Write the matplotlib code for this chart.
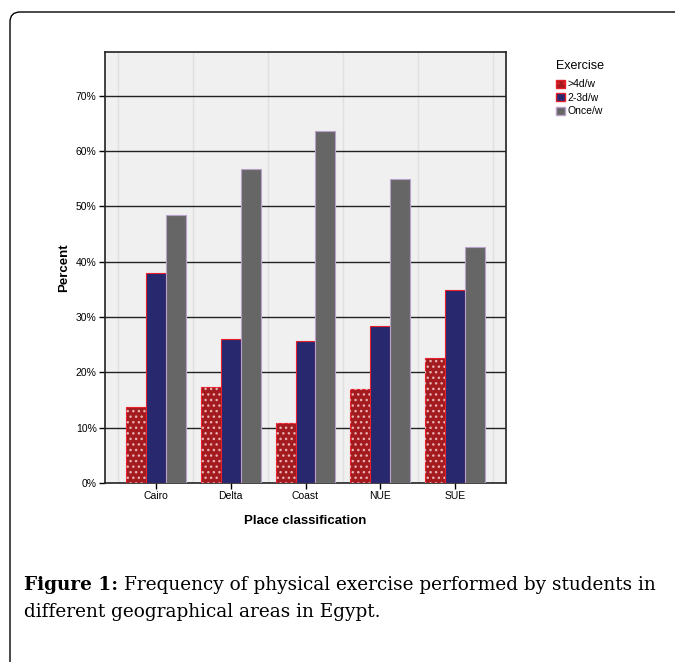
import matplotlib
matplotlib.use('Agg')
import matplotlib.pyplot as plt
import numpy as np
from matplotlib.patches import FancyBboxPatch, Patch

# data
places = ['Cairo', 'Delta', 'Coast', 'NUE', 'SUE']
over_4d = [13.7, 17.4, 10.9, 16.9, 22.6]
d2_3 = [37.9, 26.0, 25.6, 28.3, 34.8]
once = [48.4, 56.7, 63.7, 54.9, 42.6]
series_labels = ['>4d/w', '2-3d/w', 'Once/w']
yticks = [0, 10, 20, 30, 40, 50, 60, 70]

plt.rcParams['font.family'] = ['Liberation Sans', 'DejaVu Sans']

fig = plt.figure(figsize=(6.75, 6.62), dpi=100)
W, H = 675, 662

# rounded frame around the figure panel
frame = FancyBboxPatch((10 / W, -0.2), 1.2, (H - 12) / H + 0.2,
                       boxstyle='round,pad=0,rounding_size=0.015',
                       transform=fig.transFigure, fill=False,
                       edgecolor='black', linewidth=1.0)
fig.patches.append(frame)

ax = fig.add_axes([105 / W, 1 - 483 / H, (506 - 105) / W, (483 - 52) / H])
ax.set_facecolor('#f0f0f0')

x = np.arange(len(places))
w = 0.267

# >4d/w bars: dark red with light dotted pattern
ax.bar(x - w, over_4d, w, color='#a31a1f', edgecolor='#e8202a', linewidth=0.8, zorder=3)
ax.bar(x - w, over_4d, w, color='none', edgecolor='#e8b0b0', hatch='...', linewidth=0, zorder=4)
ax.bar(x, d2_3, w, color='#28286e', edgecolor='#e8202a', linewidth=0.8, zorder=3)
ax.bar(x + w, once, w, color='#666666', edgecolor='#b8a0c8', linewidth=0.8, zorder=3)

ax.set_xlim(-0.68, len(places) - 1 + 0.68)
ax.set_ylim(0, 77.9)
ax.set_yticks(yticks)
ax.set_yticklabels(['%d%%' % t for t in yticks], fontsize=7.5)
ax.set_xticks(x)
ax.set_xticklabels(places, fontsize=7.5)
ax.tick_params(axis='both', length=4, width=1, direction='out', pad=2)

# grid lines
for t in yticks[1:]:
    ax.axhline(t, color='#222222', linewidth=1.0, zorder=2)
for b in np.arange(-0.5, len(places), 1.0):
    ax.axvline(b, color='#e0e0e0', linewidth=1.0, zorder=1)

for s in ax.spines.values():
    s.set_linewidth(1.2)
    s.set_color('#222222')

ax.set_ylabel('Percent', fontsize=9.5, fontweight='bold', labelpad=4)
ax.set_xlabel('Place classification', fontsize=9.5, fontweight='bold', labelpad=10)

handles = [Patch(facecolor='#a31a1f', edgecolor='#e8202a', hatch='...'),
           Patch(facecolor='#28286e', edgecolor='#e8202a'),
           Patch(facecolor='#666666', edgecolor='#b8a0c8')]
leg = fig.legend(handles, series_labels, loc='upper left',
                 bbox_to_anchor=(551 / W, 1 - 55 / H), frameon=False,
                 title='Exercise', fontsize=7.5, title_fontsize=9,
                 handlelength=0.8, handleheight=0.8, handletextpad=0.3,
                 labelspacing=0.35, borderpad=0)
leg._legend_box.align = 'left'
leg._legend_box.sep = 5

# caption
cap = dict(fontsize=13.3, family='DejaVu Serif', va='center', ha='left')
t1 = fig.text(24 / W, 1 - 585 / H, 'Figure 1:', fontweight='bold', **cap)
fig.canvas.draw()
bb = t1.get_window_extent()
fig.text((bb.x1 + 6) / W, 1 - 585 / H,
         'Frequency of physical exercise performed by students in', **cap)
fig.text(24 / W, 1 - 612 / H, 'different geographical areas in Egypt.', **cap)

plt.savefig('out.png', dpi=100)
